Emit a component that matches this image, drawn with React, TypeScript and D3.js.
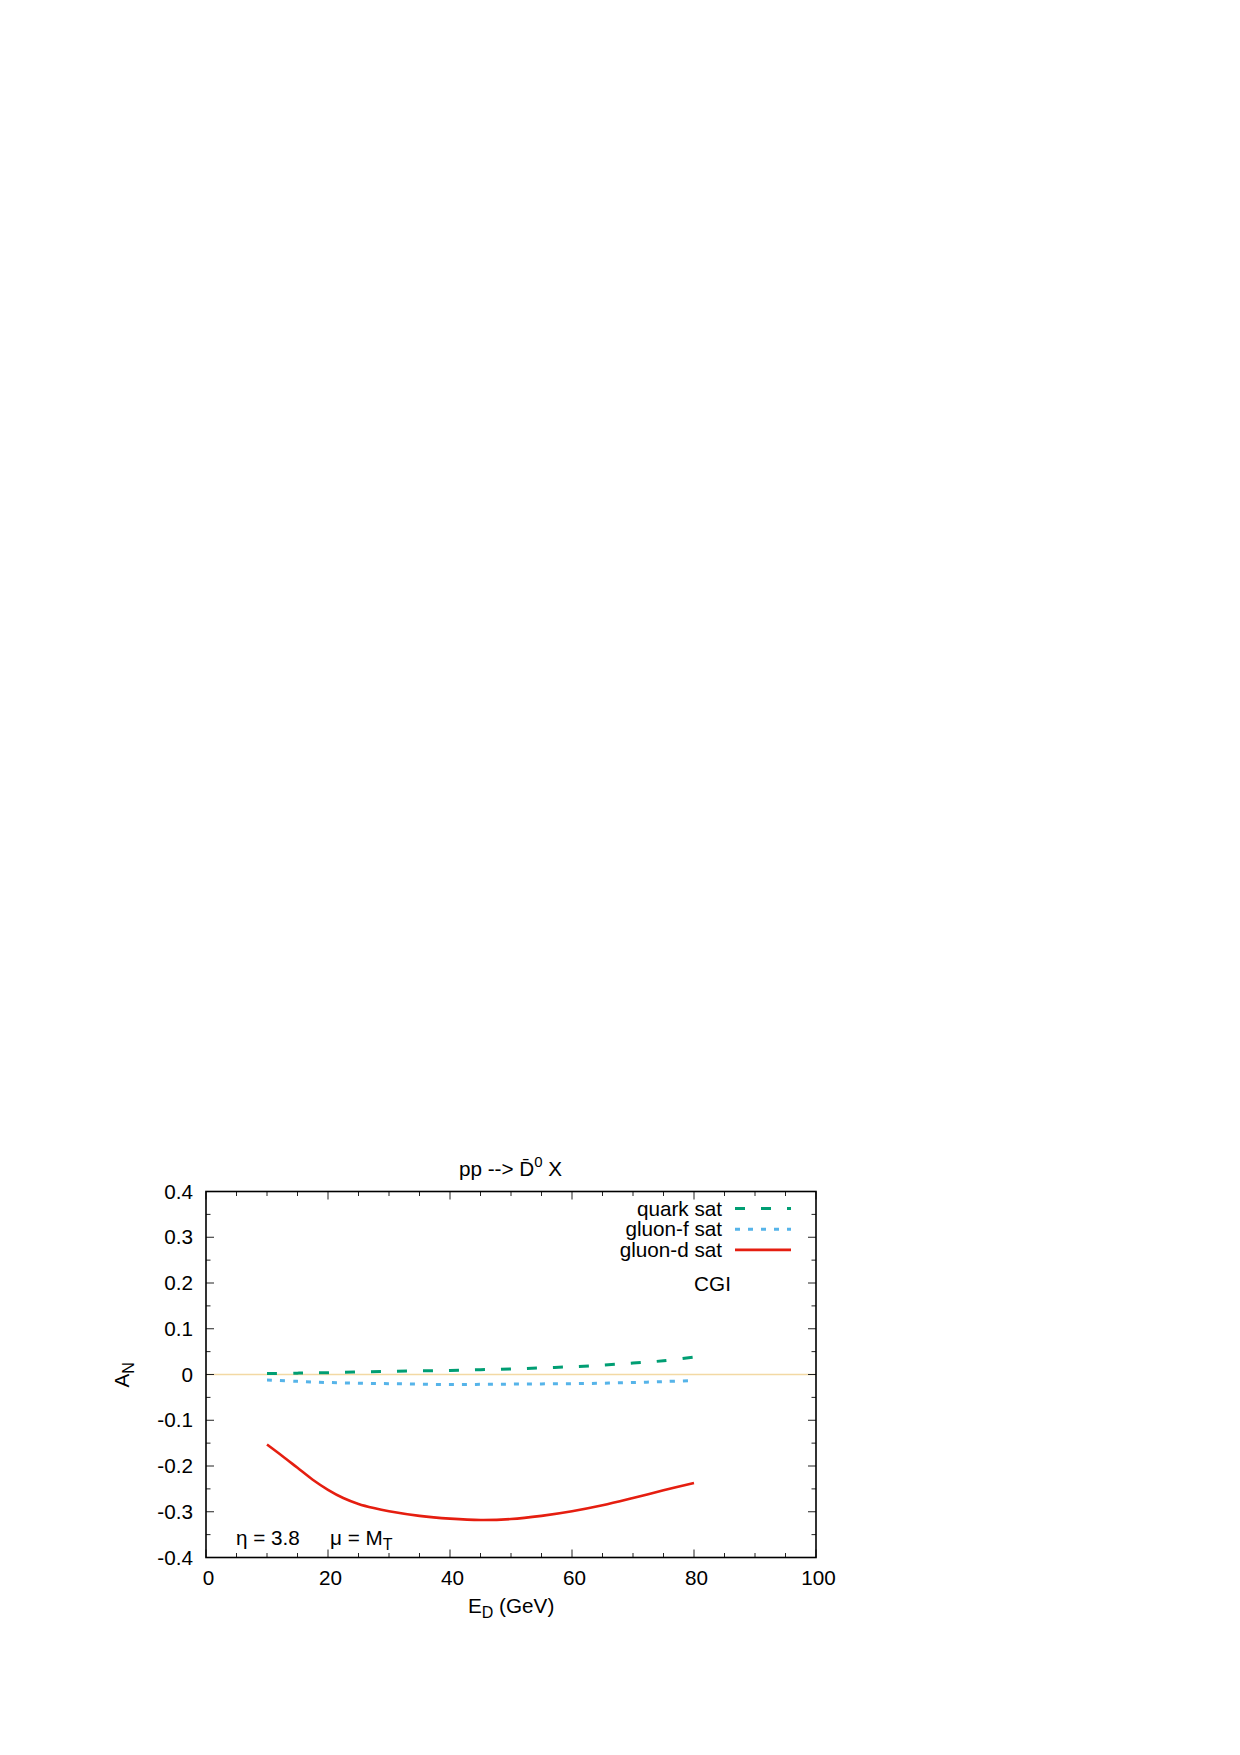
import React from "react";
import * as d3 from "d3";

const xTicks = [0, 20, 40, 60, 80, 100];
const yTicks = [-0.4, -0.3, -0.2, -0.1, 0, 0.1, 0.2, 0.3, 0.4];
const yTickLabels = ["-0.4", "-0.3", "-0.2", "-0.1", "0", "0.1", "0.2", "0.3", "0.4"];

const quarkX = [10, 15, 20, 25, 30, 35, 40, 45, 50, 55, 60, 65, 70, 75, 80];
const quarkY = [0.002, 0.003, 0.004, 0.0055, 0.007, 0.008, 0.009, 0.0105, 0.012, 0.0145, 0.017, 0.0205, 0.025, 0.030, 0.038];

const gluonFX = [10, 15, 20, 25, 30, 35, 40, 45, 50, 55, 60, 65, 70, 75, 80];
const gluonFY = [-0.012, -0.015, -0.0175, -0.019, -0.020, -0.021, -0.022, -0.0215, -0.021, -0.0205, -0.020, -0.019, -0.0175, -0.0155, -0.013];

const gluonDX = [10, 12.5, 15, 17.5, 20, 22.5, 25, 27.5, 30, 35, 40, 45, 50, 55, 60, 65, 70, 75, 80];
const gluonDY = [-0.153, -0.178, -0.204, -0.230, -0.252, -0.270, -0.283, -0.292, -0.299, -0.309, -0.315, -0.318, -0.316, -0.309, -0.299, -0.286, -0.270, -0.253, -0.237];

const series = [
  { name: "quark sat", xs: quarkX, ys: quarkY, color: "#009e73", dash: "10 16", width: 3 },
  { name: "gluon-f sat", xs: gluonFX, ys: gluonFY, color: "#56b4e9", dash: "5 8", width: 3 },
  { name: "gluon-d sat", xs: gluonDX, ys: gluonDY, color: "#e51e10", dash: "", width: 2.6 },
];

const FONT = "'Liberation Sans', Arial, sans-serif";

export default function App() {
  const L = 206, R = 816, T = 1191.5, B = 1557.5;
  const x = d3.scaleLinear().domain([0, 100]).range([L, R]);
  const y = d3.scaleLinear().domain([-0.4, 0.4]).range([B, T]);
  const xMinor = d3.range(0, 100.001, 5);
  const yMinor = d3.range(-0.4, 0.4001, 0.05);
  const line = d3.line<[number, number]>().x(d => x(d[0])).y(d => y(d[1])).curve(d3.curveCatmullRom.alpha(0.5));
  const fs = 20.7;
  const sub = 16;

  return (
    <svg width={1240} height={1755} style={{ position: "absolute", left: 0, top: 0, background: "#fff" }} fontFamily={FONT}>
      <rect x={0} y={0} width={1240} height={1755} fill="#fff" />
      <line x1={L} x2={R} y1={y(0)} y2={y(0)} stroke="#f3d9a4" strokeWidth={1.6} />
      {xMinor.map((v, i) => {
        const major = xTicks.some(t => Math.abs(t - v) < 1e-6);
        const len = major ? 8 : 4.5;
        return (
          <g key={"xm" + i} stroke="#222" strokeWidth={1}>
            <line x1={x(v)} x2={x(v)} y1={B} y2={B - len} />
            <line x1={x(v)} x2={x(v)} y1={T} y2={T + len} />
          </g>
        );
      })}
      {yMinor.map((v, i) => {
        const major = yTicks.some(t => Math.abs(t - v) < 1e-6);
        const len = major ? 8 : 4.5;
        return (
          <g key={"ym" + i} stroke="#222" strokeWidth={1}>
            <line x1={L} x2={L + len} y1={y(v)} y2={y(v)} />
            <line x1={R} x2={R - len} y1={y(v)} y2={y(v)} />
          </g>
        );
      })}
      {series.map(s => (
        <path
          key={s.name}
          d={line(s.xs.map((v, i) => [v, s.ys[i]] as [number, number])) || ""}
          fill="none"
          stroke={s.color}
          strokeWidth={s.width}
          strokeDasharray={s.dash || undefined}
        />
      ))}
      <rect x={L} y={T} width={R - L} height={B - T} fill="none" stroke="#000" strokeWidth={1.6} />
      {xTicks.map(t => (
        <text key={"xt" + t} x={x(t) + 2.5} y={1585} fontSize={fs} textAnchor="middle" fill="#000">{t}</text>
      ))}
      {yTicks.map((t, i) => (
        <text key={"yt" + t} x={193} y={y(t) + 7} fontSize={fs} textAnchor="end" fill="#000">{yTickLabels[i]}</text>
      ))}
      <text x={468} y={1613} fontSize={fs} fill="#000">
        E<tspan dy={5} fontSize={sub}>D</tspan><tspan dy={-5} fontSize={fs}> (GeV)</tspan>
      </text>
      <text transform={`translate(129,${y(0) + 13}) rotate(-90)`} fontSize={fs} fill="#000">
        A<tspan dy={5} fontSize={sub}>N</tspan>
      </text>
      <text x={510.5} y={1176} fontSize={fs} textAnchor="middle" fill="#000">
        pp --&gt; D{"\u0304"}<tspan dy={-9} fontSize={15}>0</tspan><tspan dy={9} fontSize={fs}> X</tspan>
      </text>
      {series.map((s, i) => (
        <g key={"lg" + s.name}>
          <text x={722} y={1215.5 + i * 20.8} fontSize={fs} textAnchor="end" fill="#000">{s.name}</text>
          <line x1={735} x2={791} y1={1208.5 + i * 20.7} y2={1208.5 + i * 20.7} stroke={s.color} strokeWidth={s.width} strokeDasharray={s.dash || undefined} />
        </g>
      ))}
      <text x={712.5} y={1290.5} fontSize={fs} textAnchor="middle" fill="#000">CGI</text>
      <text x={236} y={1545} fontSize={fs} fill="#000">η = 3.8</text>
      <text x={330} y={1545} fontSize={fs} fill="#000">
        μ = M<tspan dy={5} fontSize={sub}>T</tspan>
      </text>
    </svg>
  );
}
